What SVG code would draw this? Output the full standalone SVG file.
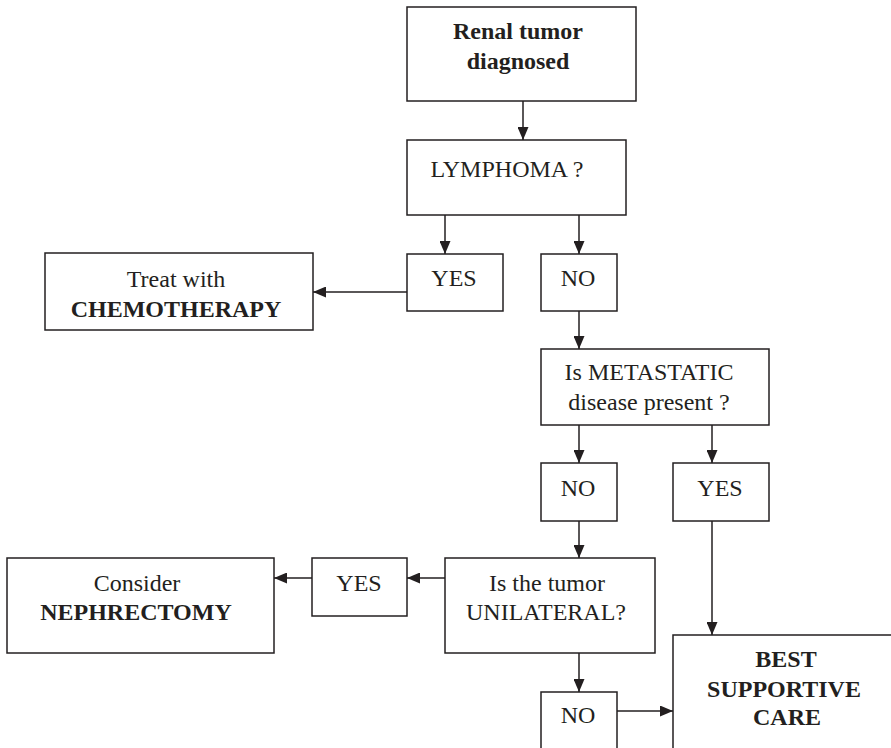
<svg xmlns="http://www.w3.org/2000/svg" width="891" height="748" viewBox="0 0 891 748">
<style>
rect{fill:#fff;stroke:#231f20;stroke-width:1.5}
text{font-family:"Liberation Serif","Times New Roman",serif;font-size:24px;fill:#231f20;text-anchor:middle}
.b{font-weight:bold}
#connectors line{stroke:#231f20;stroke-width:1.5}
</style>
<defs>
<marker id="ah" viewBox="0 0 13 11" refX="13" refY="5.5" markerWidth="13" markerHeight="11" markerUnits="userSpaceOnUse" orient="auto">
<path d="M0,0 L13,5.5 L0,11 Z" fill="#231f20"/>
</marker>
</defs>
<rect width="891" height="748" style="fill:#fff;stroke:none"/>
<g id="connectors">
<line x1="523" y1="101" x2="523" y2="140" marker-end="url(#ah)"/>
<line x1="445" y1="215" x2="445" y2="254" marker-end="url(#ah)"/>
<line x1="579" y1="215" x2="579" y2="254" marker-end="url(#ah)"/>
<line x1="407" y1="292" x2="313" y2="292" marker-end="url(#ah)"/>
<line x1="579" y1="311" x2="579" y2="349" marker-end="url(#ah)"/>
<line x1="579" y1="425" x2="579" y2="463" marker-end="url(#ah)"/>
<line x1="712" y1="425" x2="712" y2="463" marker-end="url(#ah)"/>
<line x1="579" y1="521" x2="579" y2="558" marker-end="url(#ah)"/>
<line x1="445" y1="578" x2="407" y2="578" marker-end="url(#ah)"/>
<line x1="312" y1="578" x2="274" y2="578" marker-end="url(#ah)"/>
<line x1="712" y1="521" x2="712" y2="635" marker-end="url(#ah)"/>
<line x1="579" y1="653" x2="579" y2="692" marker-end="url(#ah)"/>
<line x1="617" y1="711" x2="673" y2="711" marker-end="url(#ah)"/>
</g>
<g id="renal">
<rect x="407" y="7" width="229" height="94"/>
<text class="b" x="518" y="39">Renal tumor</text>
<text class="b" x="518" y="69">diagnosed</text>
</g>
<g id="lymphoma">
<rect x="407" y="140" width="219" height="75"/>
<text x="507" y="177">LYMPHOMA ?</text>
</g>
<g id="yes1">
<rect x="407" y="254" width="96" height="57"/>
<text x="454" y="286">YES</text>
</g>
<g id="no1">
<rect x="541" y="254" width="76" height="57"/>
<text x="578" y="286">NO</text>
</g>
<g id="chemo">
<rect x="45" y="253" width="268" height="77"/>
<text x="176" y="287">Treat with</text>
<text class="b" x="176" y="317">CHEMOTHERAPY</text>
</g>
<g id="metastatic">
<rect x="541" y="349" width="228" height="76"/>
<text x="649" y="380">Is METASTATIC</text>
<text x="649" y="410">disease present ?</text>
</g>
<g id="no2">
<rect x="541" y="463" width="76" height="58"/>
<text x="578" y="496">NO</text>
</g>
<g id="yes2">
<rect x="673" y="463" width="96" height="58"/>
<text x="720" y="496">YES</text>
</g>
<g id="unilateral">
<rect x="445" y="558" width="210" height="95"/>
<text x="547" y="591">Is the tumor</text>
<text x="546" y="620">UNILATERAL?</text>
</g>
<g id="yes3">
<rect x="312" y="558" width="95" height="58"/>
<text x="359" y="591">YES</text>
</g>
<g id="nephrectomy">
<rect x="7" y="558" width="267" height="95"/>
<text x="137" y="591">Consider</text>
<text class="b" x="136" y="620">NEPHRECTOMY</text>
</g>
<g id="no3">
<rect x="541" y="692" width="76" height="70"/>
<text x="578" y="723">NO</text>
</g>
<g id="bsc">
<rect x="673" y="635" width="230" height="130"/>
<text class="b" x="786" y="667">BEST</text>
<text class="b" x="784" y="697">SUPPORTIVE</text>
<text class="b" x="787" y="725">CARE</text>
</g>
</svg>
